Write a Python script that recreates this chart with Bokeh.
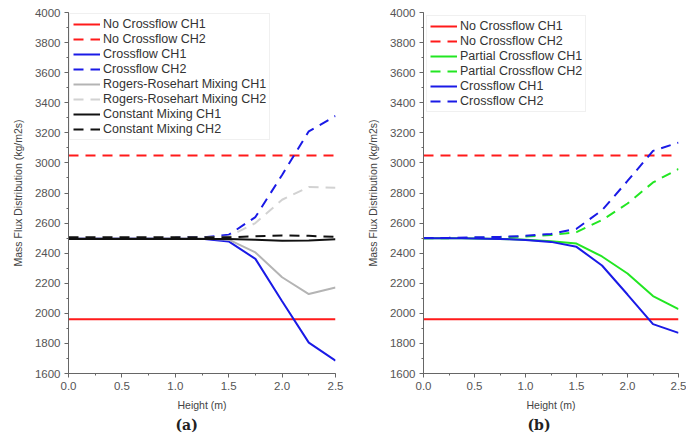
from bokeh.plotting import figure
from bokeh.layouts import row
from bokeh.models import Range1d, SingleIntervalTicker, NumeralTickFormatter, Title
from bokeh.embed import file_html
from bokeh.resources import INLINE

# ---- data ----
heights = [0.0, 0.25, 0.5, 0.75, 1.0, 1.25, 1.5, 1.75, 2.0, 2.25, 2.5]

# panel (a)
a_nocf_ch1 = [1960] * 11
a_nocf_ch2 = [3050] * 11
a_cf_ch1 = [2500, 2500, 2500, 2500, 2498, 2495, 2478, 2362, 2080, 1805, 1685]
a_cf_ch2 = [2500, 2500, 2500, 2500, 2502, 2505, 2522, 2640, 2920, 3210, 3312]
a_rr_ch1 = [2500, 2500, 2500, 2500, 2499, 2497, 2490, 2405, 2240, 2128, 2172]
a_rr_ch2 = [2500, 2500, 2500, 2500, 2501, 2503, 2510, 2600, 2755, 2840, 2835]
a_cm_ch1 = [2495, 2495, 2495, 2495, 2495, 2495, 2494, 2490, 2482, 2485, 2493]
a_cm_ch2 = [2505, 2505, 2505, 2505, 2505, 2505, 2506, 2512, 2518, 2515, 2508]

# panel (b)
b_nocf_ch1 = [1960] * 11
b_nocf_ch2 = [3050] * 11
b_pcf_ch1 = [2500, 2500, 2498, 2495, 2490, 2480, 2464, 2378, 2265, 2115, 2028]
b_pcf_ch2 = [2500, 2500, 2502, 2505, 2510, 2520, 2540, 2620, 2730, 2870, 2960]
b_cf_ch1 = [2500, 2500, 2498, 2495, 2488, 2475, 2442, 2318, 2125, 1928, 1870]
b_cf_ch2 = [2500, 2502, 2505, 2508, 2515, 2528, 2562, 2685, 2880, 3080, 3135]

RED = "#ff1a1a"
BLUE = "#1a1ae6"
GREEN = "#22e622"
GRAY1 = "#b4b4b4"
GRAY2 = "#d2d2d2"
BLACK = "#111111"
DASH = "10 7"
FONT = "Liberation Sans"


def make_fig(width, border_left, border_right, label, label_offset):
    p = figure(width=width, height=433, output_backend="svg", toolbar_location=None,
               x_range=Range1d(0, 2.5), y_range=Range1d(1600, 4000),
               min_border_left=border_left, min_border_right=border_right,
               min_border_top=12, min_border_bottom=0)
    p.outline_line_color = None
    p.xgrid.visible = False
    p.ygrid.visible = False
    p.background_fill_color = "white"
    p.border_fill_color = "white"
    p.xaxis.ticker = SingleIntervalTicker(interval=0.5, num_minor_ticks=2)
    p.yaxis.ticker = SingleIntervalTicker(interval=200, num_minor_ticks=2)
    p.xaxis.formatter = NumeralTickFormatter(format="0.0")
    for ax in (p.xaxis[0], p.yaxis[0]):
        ax.axis_line_color = "#666666"
        ax.major_tick_line_color = "#666666"
        ax.minor_tick_line_color = "#666666"
        ax.major_tick_out = 4
        ax.major_tick_in = 0
        ax.minor_tick_out = 2
        ax.minor_tick_in = 0
        ax.major_label_standoff = 4
        ax.major_label_text_font = FONT
        ax.major_label_text_font_size = "11.5px"
        ax.major_label_text_color = "#555555"
        ax.axis_label_text_font = FONT
        ax.axis_label_text_font_size = "10.5px"
        ax.axis_label_text_font_style = "normal"
        ax.axis_label_text_color = "#444444"
        ax.axis_label_standoff = 6
    p.xaxis.axis_label = "Height (m)"
    p.yaxis.axis_label = "Mass Flux Distribution (kg/m2s)"
    p.yaxis.axis_label_standoff = 8
    p.add_layout(Title(text=label, align="left", offset=label_offset,
                       text_font="DejaVu Serif", text_font_size="14px",
                       text_font_style="bold", text_color="#222222", standoff=2), "below")
    return p


def style_legend(p):
    lg = p.legend[0]
    lg.location = "top_left"
    lg.margin = 1
    lg.padding = 3
    lg.spacing = 1
    lg.label_height = 12
    lg.glyph_height = 12
    lg.glyph_width = 27
    lg.label_standoff = 3
    lg.label_text_font = FONT
    lg.label_text_font_size = "12.5px"
    lg.label_text_color = "#333333"
    lg.border_line_color = "#e2e2e2"
    lg.background_fill_alpha = 1.0


# ---- panel (a) ----
pa = make_fig(352, 68, 17, "(a)", 107)
pa.line(heights, a_nocf_ch1, color=RED, line_width=2, legend_label="No Crossflow CH1")
pa.line(heights, a_nocf_ch2, color=RED, line_width=2, line_dash=DASH, legend_label="No Crossflow CH2")
pa.line(heights, a_cf_ch1, color=BLUE, line_width=2, legend_label="Crossflow CH1")
pa.line(heights, a_cf_ch2, color=BLUE, line_width=2, line_dash=DASH, legend_label="Crossflow CH2")
pa.line(heights, a_rr_ch1, color=GRAY1, line_width=2, legend_label="Rogers-Rosehart Mixing CH1")
pa.line(heights, a_rr_ch2, color=GRAY2, line_width=2, line_dash=DASH, legend_label="Rogers-Rosehart Mixing CH2")
pa.line(heights, a_cm_ch1, color=BLACK, line_width=2, legend_label="Constant Mixing CH1")
pa.line(heights, a_cm_ch2, color=BLACK, line_width=2, line_dash=DASH, legend_label="Constant Mixing CH2")
style_legend(pa)

# ---- panel (b) ----
pb = make_fig(334, 71, 8, "(b)", 104)
pb.line(heights, b_nocf_ch1, color=RED, line_width=2, legend_label="No Crossflow CH1")
pb.line(heights, b_nocf_ch2, color=RED, line_width=2, line_dash=DASH, legend_label="No Crossflow CH2")
pb.line(heights, b_pcf_ch1, color=GREEN, line_width=2, legend_label="Partial Crossflow CH1")
pb.line(heights, b_pcf_ch2, color=GREEN, line_width=2, line_dash=DASH, legend_label="Partial Crossflow CH2")
pb.line(heights, b_cf_ch1, color=BLUE, line_width=2, legend_label="Crossflow CH1")
pb.line(heights, b_cf_ch2, color=BLUE, line_width=2, line_dash=DASH, legend_label="Crossflow CH2")
style_legend(pb)
pb.legend[0].margin = 3

layout = row(pa, pb)
open("out.html", "w").write(file_html(layout, INLINE))
